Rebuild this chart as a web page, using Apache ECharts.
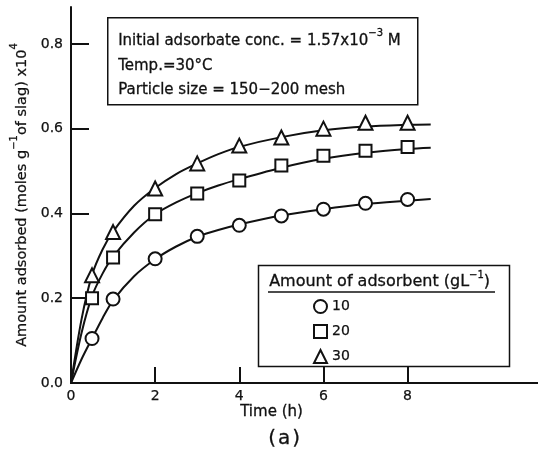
<!DOCTYPE html>
<html>
<head>
<meta charset="utf-8">
<script src="https://cdn.jsdelivr.net/npm/echarts@6/dist/echarts.min.js"></script>
<style>
  html, body { margin: 0; padding: 0; background: #fff; }
  #chart { width: 538px; height: 460px; }
</style>
</head>
<body>
<div id="chart"></div>
<script>
// Sampling times (h) of the measured points
const times = [0.5, 1, 2, 3, 4, 5, 6, 7, 8];
// Amount adsorbed (moles g^-1 of slag) x 10^4 for each adsorbent dose
const dose10 = [0.105, 0.198, 0.293, 0.346, 0.372, 0.394, 0.41, 0.424, 0.433];
const dose20 = [0.200, 0.296, 0.398, 0.447, 0.478, 0.513, 0.536, 0.548, 0.557];
const dose30 = [0.254, 0.356, 0.459, 0.518, 0.560, 0.579, 0.600, 0.614, 0.614];

// Fitted kinetic curves, sampled along each drawn line
const curveTimes = [0, 0.25, 0.5, 0.75, 1, 1.5, 2, 2.5, 3, 3.5, 4, 5, 6, 7, 8, 8.55];
const curve10 = [0, 0.056, 0.105, 0.153, 0.195, 0.252, 0.292, 0.322, 0.345, 0.361, 0.374, 0.395, 0.410, 0.422, 0.430, 0.434];
const curve20 = [0, 0.118, 0.205, 0.258, 0.298, 0.355, 0.398, 0.426, 0.448, 0.466, 0.481, 0.508, 0.529, 0.543, 0.552, 0.555];
const curve30 = [0, 0.150, 0.255, 0.315, 0.357, 0.418, 0.460, 0.493, 0.518, 0.540, 0.557, 0.580, 0.596, 0.605, 0.609, 0.610];

const doseNames = ['10', '20', '30'];
const xLabelValues = [0, 2, 4, 6, 8];
const xTickValues = [2, 4, 6, 8];
const yLabelValues = [0, 0.2, 0.4, 0.6, 0.8];
const yTickValues = [0.2, 0.4, 0.6, 0.8];

const FONT = 'DejaVu Sans';
const INK = '#111';
// slight outline to give the lettering a heavier stroke
const thick = { textBorderColor: INK, textBorderWidth: 0.25 };
const thickG = { stroke: INK, lineWidth: 0.3 };

const pair = (xs, ys) => xs.map((x, i) => [x, ys[i]]);

const chart = echarts.init(document.getElementById('chart'), null, { renderer: 'canvas' });

function curveSeries(values) {
  return {
    type: 'line',
    data: pair(curveTimes, values),
    smooth: 0.3,
    showSymbol: false,
    silent: true,
    lineStyle: { color: INK, width: 2 },
    z: 2
  };
}

function pointSeries(name, values, symbol, size) {
  return {
    name: name,
    type: 'scatter',
    data: pair(times, values),
    symbol: symbol,
    symbolSize: size,
    itemStyle: { color: '#fff', borderColor: INK, borderWidth: 2, opacity: 1 },
    z: 5
  };
}

// rich styles for axis names (component text style keys)
const axisRich = {
  a: Object.assign({ fontFamily: FONT, fontSize: 14.5, color: INK, lineHeight: 20, verticalAlign: 'bottom' }, thick),
  s: Object.assign({ fontFamily: FONT, fontSize: 10, color: INK, lineHeight: 20, verticalAlign: 'top' }, thick)
};
// rich styles for graphic text (zrender style keys)
const boxRich = (size) => ({
  a: Object.assign({ fontFamily: FONT, fontSize: size, fill: INK, lineHeight: 20, verticalAlign: 'bottom' }, thickG),
  s: Object.assign({ fontFamily: FONT, fontSize: 10, fill: INK, lineHeight: 20, verticalAlign: 'top' }, thickG)
});

const plainText = (text, size) => Object.assign({ text: text, font: size + 'px "DejaVu Sans"', fill: INK }, thickG);

const option = {
  animation: false,
  backgroundColor: '#fff',
  grid: { left: 71, top: 7, right: 0, bottom: 77, containLabel: false },
  xAxis: [{
    type: 'value',
    min: 0, max: 11.1, interval: 2,
    axisLine: { show: true, onZero: false, lineStyle: { color: INK, width: 2 } },
    axisTick: { show: true, inside: true, length: 16, customValues: xTickValues, lineStyle: { color: INK, width: 2 } },
    axisLabel: Object.assign({ show: true, customValues: xLabelValues, color: INK, fontFamily: FONT, fontSize: 14, margin: 6 }, thick),
    splitLine: { show: false }
  }, {
    type: 'value', position: 'top',
    min: 0, max: 11.1,
    axisLine: { show: true, lineStyle: { color: INK, width: 2 } },
    axisTick: { show: false }, axisLabel: { show: false }, splitLine: { show: false }
  }],
  yAxis: {
    type: 'value',
    min: 0, max: 0.887, interval: 0.2,
    axisLine: { show: true, onZero: false, lineStyle: { color: INK, width: 2 } },
    axisTick: { show: true, inside: true, length: 18, customValues: yTickValues, lineStyle: { color: INK, width: 2 } },
    axisLabel: Object.assign({
      customValues: yLabelValues,
      color: INK, fontFamily: FONT, fontSize: 14, margin: 8,
      formatter: v => v.toFixed(1)
    }, thick),
    splitLine: { show: false },
    name: '{a|Amount adsorbed (moles g}{s|−1}{a|of slag) x10}{s|4}',
    nameLocation: 'middle',
    nameGap: 40,
    nameRotate: 90,
    nameTextStyle: { rich: axisRich }
  },
  legend: {
    data: doseNames,
    orient: 'vertical',
    left: 308, top: 294,
    itemWidth: 13, itemHeight: 13, itemGap: 10,
    textStyle: Object.assign({ fontFamily: FONT, fontSize: 14, color: INK, padding: [0, 0, 4, 0] }, thick),
    selectedMode: false
  },
  series: [
    curveSeries(curve10),
    curveSeries(curve20),
    curveSeries(curve30),
    pointSeries(doseNames[0], dose10, 'circle', 13),
    pointSeries(doseNames[1], dose20, 'rect', 12),
    pointSeries(doseNames[2], dose30, 'triangle', 14)
  ],
  graphic: [
    // experimental conditions box
    {
      type: 'rect', left: 107, top: 17,
      shape: { width: 310, height: 87 },
      style: { fill: '#fff', stroke: INK, lineWidth: 1.5 }, z: 10
    },
    {
      type: 'text', left: 118, top: 28, z: 11,
      style: { text: '{a|Initial adsorbate conc. = 1.57x10}{s|−3}{a| M}', rich: boxRich(15) }
    },
    { type: 'text', left: 118, top: 58, z: 11, style: plainText('Temp.=30°C', 15) },
    { type: 'text', left: 118, top: 82, z: 11, style: plainText('Particle size = 150−200 mesh', 15) },
    // legend frame and heading
    {
      type: 'rect', left: 256, top: 263,
      shape: { width: 251, height: 101 },
      style: { fill: 'none', stroke: INK, lineWidth: 1.5 }, z: 10
    },
    {
      type: 'text', left: 269, top: 270, z: 11,
      style: { text: '{a|Amount of adsorbent (gL}{s|−1}{a|)}', rich: boxRich(16) }
    },
    {
      type: 'line', z: 11,
      shape: { x1: 268, y1: 292, x2: 495, y2: 292 },
      style: { stroke: INK, lineWidth: 1.5 }
    },
    // axis title and panel tag
    { type: 'text', left: 240, top: 404, z: 11, style: plainText('Time (h)', 15) },
    { type: 'text', left: 268, top: 429, z: 11, style: plainText('(\u200Aa\u200A)', 20) }
  ]
};

chart.setOption(option);
</script>
</body>
</html>
